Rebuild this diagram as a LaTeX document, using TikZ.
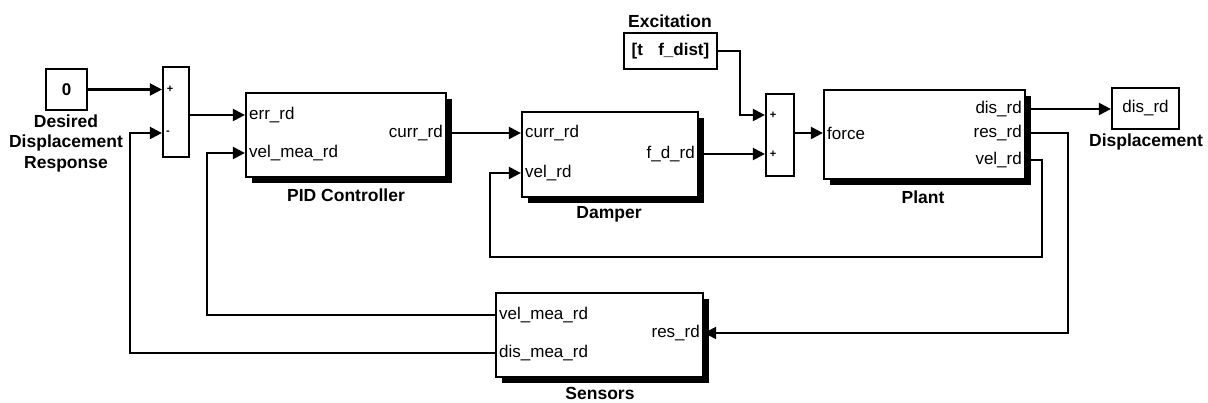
\documentclass[tikz,border=0pt]{standalone}
\usepackage{fontspec}
\setmainfont{Liberation Sans}
\usetikzlibrary{arrows.meta,shadows,calc}
\begin{document}
\begin{tikzpicture}[x=1pt,y=-1pt,
  blk/.style n args={2}{draw,line width=2.2pt,fill=white,inner sep=0pt,minimum width=#1,minimum height=#2,font=\fontsize{17}{18}\selectfont},
  shblk/.style n args={2}{blk={#1}{#2},drop shadow={shadow xshift=6pt,shadow yshift=-6pt,fill=black,opacity=1}},
  port/.style={font=\fontsize{17}{18}\selectfont,inner sep=0pt},
  ttl/.style={font=\bfseries\fontsize{17.5}{20.5}\selectfont,inner sep=0pt,align=center},
  sgn/.style={font=\bfseries\fontsize{11}{11}\selectfont,inner sep=0pt},
  wire/.style={line width=2.2pt},
  sig/.style={wire,-{Triangle[length=12pt,width=12pt]}}]
\useasboundingbox (0,0) rectangle (1208,403);

% blocks
\node[blk={41pt}{41pt}] (c0) at (66.5,89.5) {\bfseries 0};
\node[blk={26pt}{90pt}] (sum1) at (176,112) {};
\node[shblk={200pt}{84pt}] (pid) at (346,135) {};
\node[shblk={176pt}{85pt}] (dmp) at (610,154.5) {};
\node[blk={28pt}{82pt}] (sum2) at (780,135) {};
\node[blk={93pt}{36pt}] (exc) at (670.5,51) {\bfseries [t\hspace{0.9em}f\_dist]};
\node[shblk={201pt}{89pt}] (plant) at (924.5,134.5) {};
\node[blk={67pt}{41pt}] (disp) at (1145.5,108.5) {dis\_rd};
\node[shblk={207pt}{84pt}] (sens) at (599.5,335) {};

% sum signs
\node[sgn] (sp1) at (170,89) {+};
\node[sgn] (sm1) at (168,133) {-};
\node[sgn] (sp2) at (773,115) {+};
\node[sgn] (sp3) at (773,154) {+};

% port labels
\node[port,anchor=west] (pid-err) at (249,115) {err\_rd};
\node[port,anchor=west] (pid-vel) at (249,153) {vel\_mea\_rd};
\node[port,anchor=east] (pid-cur) at (443,133) {curr\_rd};
\node[port,anchor=west] (dmp-cur) at (525,133) {curr\_rd};
\node[port,anchor=west] (dmp-vel) at (525,173) {vel\_rd};
\node[port,anchor=east] (dmp-fd) at (695,154) {f\_d\_rd};
\node[port,anchor=west] (plant-force) at (827,133) {force};
\node[port,anchor=east] (plant-dis) at (1022,109) {dis\_rd};
\node[port,anchor=east] (plant-res) at (1022,133) {res\_rd};
\node[port,anchor=east] (plant-vel) at (1022,160) {vel\_rd};
\node[port,anchor=west] (sens-vel) at (499,315) {vel\_mea\_rd};
\node[port,anchor=west] (sens-dis) at (499,353) {dis\_mea\_rd};
\node[port,anchor=east] (sens-res) at (700,333) {res\_rd};

% titles
\node[ttl] (t-c0) at (66,143) {Desired\\Displacement\\Response};
\node[ttl] (t-pid) at (346,195) {PID Controller};
\node[ttl] (t-dmp) at (609,214) {Damper};
\node[ttl] (t-exc) at (670,21) {Excitation};
\node[ttl] (t-plant) at (923,197) {Plant};
\node[ttl] (t-disp) at (1146,142) {Displacement};
\node[ttl] (t-sens) at (600,393) {Sensors};

% bend points
\coordinate (k1) at (740,115);
\coordinate (v1) at (1042,257);
\coordinate (v2) at (490,257);
\coordinate (r1) at (1068,333);
\coordinate (s1) at (207,315);
\coordinate (s2) at (130,353);

% connectors
\draw[sig] (c0.east) -- (c0.east -| sum1.west);
\draw[sig] (sum1.east |- pid-err) -- (pid.west |- pid-err);
\draw[sig] (pid.east |- pid-cur) -- (dmp.west |- pid-cur);
\draw[sig] (dmp.east |- dmp-fd) -- (sum2.west |- dmp-fd);
\draw[sig] (exc.east) -| (k1) -- (sum2.west |- k1);
\draw[sig] (sum2.east |- plant-force) -- (plant.west |- plant-force);
\draw[sig] (plant.east |- plant-dis) -- (disp.west |- plant-dis);
\draw[sig] (plant.east |- plant-vel) -| (v1) -- (v2) |- (dmp.west |- dmp-vel);
\draw[sig] (plant.east |- plant-res) -| (r1) -- (sens.east |- r1);
\draw[sig] (sens.west |- sens-vel) -- (s1) |- (pid.west |- pid-vel);
\draw[sig] (sens.west |- sens-dis) -- (s2) |- (sum1.west |- sm1);
\end{tikzpicture}
\end{document}
